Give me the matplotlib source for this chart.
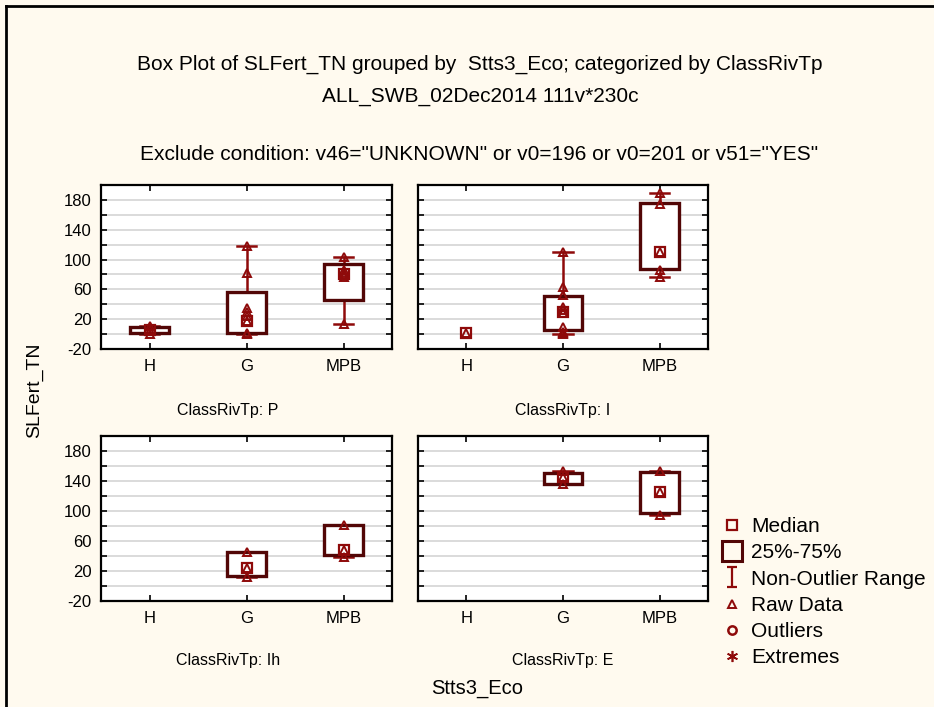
import numpy as np
import matplotlib
matplotlib.use('Agg')
import matplotlib.pyplot as plt
from matplotlib.lines import Line2D
from matplotlib.path import Path

plt.rcParams['font.family'] = ['Liberation Sans', 'DejaVu Sans']
plt.rcParams['axes.unicode_minus'] = False

groups = ['H', 'G', 'MPB']
panels = ['P', 'I', 'Ih', 'E']
nan = np.nan

# box statistics per panel (rows) and group (columns)
median = [[5, 17, 80], [1, 30, 110], [nan, 24, 48], [nan, 146, 125]]
q1 = [[2, 1, 46], [nan, 6, 87], [nan, 14, 41], [nan, 136, 97]]
q3 = [[10, 56, 94], [nan, 51, 176], [nan, 45, 82], [nan, 151, 152]]
whis_lo = [[0, 0, 13], [nan, 0, 77], [nan, 12, 39], [nan, 136, 95]]
whis_hi = [[11, 118, 104], [nan, 110, 189], [nan, 45, 82], [nan, 154, 154]]

# raw data points
raw = [
    [[0, 6, 11], [0, 1, 17, 24, 29, 35, 82, 118], [13, 76, 79, 82, 86, 104]],
    [[1], [0, 1, 3, 9, 28, 32, 37, 52, 63, 110], [77, 86, 110, 175, 189]],
    [[], [12, 24, 45], [39, 48, 82]],
    [[], [136, 146, 154], [95, 125, 153]],
]

bg = '#fffaef'
box_c = '#520606'
red = '#8e0a0a'

fig = plt.figure(figsize=(9.34, 7.07), dpi=100, facecolor=bg)

W, H = 934.0, 707.0
rects = [(101, 185, 392, 349), (418, 185, 708, 349),
         (101, 436, 392, 601), (418, 436, 708, 601)]

for k, (x0, y0, x1, y1) in enumerate(rects):
    ax = fig.add_axes([x0 / W, (H - y1) / H, (x1 - x0) / W, (y1 - y0) / H])
    ax.set_facecolor('white')
    ax.set_xlim(0.5, 3.5)
    ax.set_ylim(-20, 200)
    ax.set_yticks(np.arange(-20, 200, 20), minor=True)
    ax.set_yticks(np.arange(-20, 200, 40))
    ax.yaxis.grid(True, which='both', color='#dadada', lw=1.4)
    ax.set_axisbelow(True)
    ax.set_xticks([1, 2, 3])
    ax.set_xticklabels(groups)
    ax.tick_params(direction='in', top=True, right=True, which='both',
                   length=4, width=1.2, labelsize=12, pad=7)
    if k % 2 == 1:
        ax.set_yticklabels([])
    for s in ax.spines.values():
        s.set_linewidth(1.6)

    for j in range(3):
        x = j + 1
        if not np.isnan(q1[k][j]):
            ax.plot([x, x], [whis_lo[k][j], q1[k][j]], color=red, lw=1.8, zorder=3)
            ax.plot([x, x], [q3[k][j], whis_hi[k][j]], color=red, lw=1.8, zorder=3)
            for v in (whis_lo[k][j], whis_hi[k][j]):
                ax.plot([x - 0.1, x + 0.1], [v, v], color=red, lw=1.8, zorder=3)
            ax.add_patch(plt.Rectangle((x - 0.2, q1[k][j]), 0.4, q3[k][j] - q1[k][j],
                                       fill=True, facecolor='white',
                                       edgecolor=box_c, lw=2.4, zorder=4))
        if len(raw[k][j]) > 0:
            ax.plot([x] * len(raw[k][j]), raw[k][j], linestyle='none', marker='^',
                    ms=5.5, mfc='none', mec=red, mew=1.4, zorder=5)
        if not np.isnan(median[k][j]):
            ax.plot([x], [median[k][j]], marker='s', ms=6.5, mfc='none', mec=red,
                    mew=1.6, zorder=6)

# panel titles
fig.text(228 / W, 1 - 410 / H, 'ClassRivTp: P', ha='center', va='center', fontsize=11.5)
fig.text(563 / W, 1 - 410 / H, 'ClassRivTp: I', ha='center', va='center', fontsize=11.5)
fig.text(228 / W, 1 - 661 / H, 'ClassRivTp: Ih', ha='center', va='center', fontsize=11.5)
fig.text(563 / W, 1 - 661 / H, 'ClassRivTp: E', ha='center', va='center', fontsize=11.5)

# titles
fig.text(480 / W, 1 - 64 / H,
         'Box Plot of SLFert_TN grouped by  Stts3_Eco; categorized by ClassRivTp',
         ha='center', va='center', fontsize=15)
fig.text(480 / W, 1 - 97 / H, 'ALL_SWB_02Dec2014 111v*230c',
         ha='center', va='center', fontsize=15)
fig.text(479 / W, 1 - 155 / H,
         'Exclude condition: v46="UNKNOWN" or v0=196 or v0=201 or v51="YES"',
         ha='center', va='center', fontsize=15)

fig.text(35 / W, 1 - 390 / H, 'SLFert_TN', rotation=90, ha='center', va='center', fontsize=14)
fig.text(477 / W, 1 - 689 / H, 'Stts3_Eco', ha='center', va='center', fontsize=14.5)

# legend
ibeam = Path([(-0.5, 1), (0.5, 1), (0, 1), (0, -1), (-0.5, -1), (0.5, -1)],
             [Path.MOVETO, Path.LINETO, Path.MOVETO, Path.LINETO, Path.MOVETO, Path.LINETO])
handles = [
    Line2D([], [], ls='none', marker='s', ms=6.5, mfc='none', mec=red, mew=1.6),
    Line2D([], [], ls='none', marker='s', ms=15, mfc='none', mec=box_c, mew=2.2),
    Line2D([], [], ls='none', marker=ibeam, ms=15, mfc='none', mec=red, mew=1.6),
    Line2D([], [], ls='none', marker='^', ms=5.5, mfc='none', mec=red, mew=1.4),
    Line2D([], [], ls='none', marker='o', ms=6, mfc='none', mec=red, mew=1.8),
    Line2D([], [], ls='none', marker=(6, 2, 0), ms=8, mfc='none', mec=red, mew=1.2),
]
labels = ['Median', '25%-75%', 'Non-Outlier Range', 'Raw Data', 'Outliers', 'Extremes']
fig.legend(handles, labels, loc='upper left', bbox_to_anchor=(722 / W, 1 - 517 / H),
           frameon=False, fontsize=15, handlelength=1.0, handletextpad=0.4,
           labelspacing=0.35, borderaxespad=0, borderpad=0)

# outer frame (left and top)
fig.add_artist(Line2D([6 / W, 6 / W], [0, 1 - 6 / H], color='black', lw=2,
                      transform=fig.transFigure))
fig.add_artist(Line2D([6 / W, 1], [1 - 6 / H, 1 - 6 / H], color='black', lw=2,
                      transform=fig.transFigure))

fig.savefig('out.png', dpi=100, facecolor=bg)
